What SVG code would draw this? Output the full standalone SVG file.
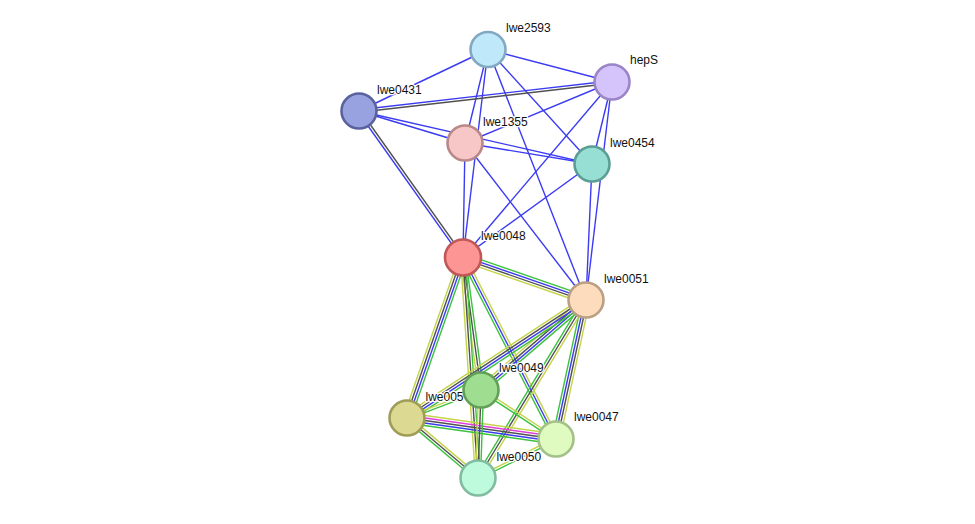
<svg xmlns="http://www.w3.org/2000/svg" width="975" height="524" viewBox="0 0 975 524">
<style>
.e line{stroke-width:1.4;fill:none}
.bl{stroke:#3b3bf3}
.g{stroke:#3cc23c}
.b{stroke:#3b3bf3}
.k{stroke:#505050}
.m{stroke:#de3ede}
.y{stroke:#c4d44a}
.n circle{stroke-width:2.6}
.n text{font-family:"Liberation Sans",Arial,sans-serif;font-size:12px;fill:#111;stroke:#fff;stroke-width:2.5;stroke-linejoin:round;paint-order:stroke}
</style>
<rect width="975" height="524" fill="#fff"/>
<g id="connectors" class="e">
  <!-- top cluster, blue single lines -->
  <line class="bl" x1="488" y1="49.5" x2="359" y2="111"/>
  <line class="bl" x1="488" y1="49.5" x2="612" y2="82"/>
  <line class="bl" x1="488" y1="49.5" x2="465" y2="143"/>
  <line class="bl" x1="488" y1="49.5" x2="463" y2="257.5"/>
  <line class="bl" x1="488" y1="49.5" x2="592" y2="164"/>
  <line class="bl" x1="488" y1="49.5" x2="586" y2="300"/>
  <line class="bl" x1="612" y1="82" x2="465" y2="143"/>
  <line class="bl" x1="612" y1="82" x2="592" y2="164"/>
  <line class="bl" x1="612" y1="82" x2="463" y2="257.5"/>
  <line class="bl" x1="612" y1="82" x2="586" y2="300"/>
  <line class="bl" x1="359" y1="111" x2="465" y2="143"/>
  <line class="bl" x1="359" y1="111" x2="592" y2="164"/>
  <line class="bl" x1="465" y1="143" x2="592" y2="164"/>
  <line class="bl" x1="465" y1="143" x2="463" y2="257.5"/>
  <line class="bl" x1="465" y1="143" x2="586" y2="300"/>
  <line class="bl" x1="592" y1="164" x2="463" y2="257.5"/>
  <line class="bl" x1="592" y1="164" x2="586" y2="300"/>
  <!-- doubles -->
  <line class="bl" x1="611.85" y1="80.7" x2="358.85" y2="109.7"/>
  <line class="k" x1="612.15" y1="83.3" x2="359.15" y2="112.3"/>
  <line class="bl" x1="357.94" y1="111.75" x2="461.94" y2="258.25"/>
  <line class="k" x1="360.06" y1="110.25" x2="464.06" y2="256.75"/>
  <!-- lower cluster -->
  <g transform="translate(463,257.5) rotate(19.06)">
    <line class="g" x1="0" x2="130.1" y1="-3.75" y2="-3.75"/>
    <line class="b" x1="0" x2="130.1" y1="-1.25" y2="-1.25"/>
    <line class="k" x1="0" x2="130.1" y1="1.25" y2="1.25"/>
    <line class="y" x1="0" x2="130.1" y1="3.75" y2="3.75"/>
  </g>
  <g transform="translate(463,257.5) rotate(109.23)">
    <line class="y" x1="0" x2="170" y1="3.75" y2="3.75"/>
    <line class="k" x1="0" x2="170" y1="1.25" y2="1.25"/>
    <line class="b" x1="0" x2="170" y1="-1.25" y2="-1.25"/>
    <line class="g" x1="0" x2="170" y1="-3.75" y2="-3.75"/>
  </g>
  <g transform="translate(463,257.5) rotate(82.26)">
    <line class="y" x1="0" x2="133.7" y1="2.5" y2="2.5"/>
    <line class="k" x1="0" x2="133.7" y1="0" y2="0"/>
    <line class="g" x1="0" x2="133.7" y1="-2.5" y2="-2.5"/>
  </g>
  <g transform="translate(463,257.5) rotate(86.11)">
    <line class="y" x1="0" x2="221" y1="2.5" y2="2.5"/>
    <line class="k" x1="0" x2="221" y1="0" y2="0"/>
    <line class="g" x1="0" x2="221" y1="-2.5" y2="-2.5"/>
  </g>
  <g transform="translate(463,257.5) rotate(62.87)">
    <line class="g" x1="0" x2="203.9" y1="2.5" y2="2.5"/>
    <line class="b" x1="0" x2="203.9" y1="0" y2="0"/>
    <line class="y" x1="0" x2="203.9" y1="-2.5" y2="-2.5"/>
  </g>
  <g transform="translate(586,300) rotate(139.4)">
    <line class="y" x1="0" x2="138.3" y1="3.75" y2="3.75"/>
    <line class="k" x1="0" x2="138.3" y1="1.25" y2="1.25"/>
    <line class="b" x1="0" x2="138.3" y1="-1.25" y2="-1.25"/>
    <line class="g" x1="0" x2="138.3" y1="-3.75" y2="-3.75"/>
  </g>
  <g transform="translate(586,300) rotate(146.6)">
    <line class="y" x1="0" x2="214.4" y1="3.75" y2="3.75"/>
    <line class="k" x1="0" x2="214.4" y1="1.25" y2="1.25"/>
    <line class="b" x1="0" x2="214.4" y1="-1.25" y2="-1.25"/>
    <line class="g" x1="0" x2="214.4" y1="-3.75" y2="-3.75"/>
  </g>
  <g transform="translate(586,300) rotate(102.18)">
    <line class="g" x1="0" x2="142.2" y1="3.75" y2="3.75"/>
    <line class="b" x1="0" x2="142.2" y1="1.25" y2="1.25"/>
    <line class="k" x1="0" x2="142.2" y1="-1.25" y2="-1.25"/>
    <line class="y" x1="0" x2="142.2" y1="-3.75" y2="-3.75"/>
  </g>
  <g transform="translate(586,300) rotate(121.25)">
    <line class="g" x1="0" x2="208.2" y1="2.5" y2="2.5"/>
    <line class="k" x1="0" x2="208.2" y1="0" y2="0"/>
    <line class="y" x1="0" x2="208.2" y1="-2.5" y2="-2.5"/>
  </g>
  <g transform="translate(407,418) rotate(-20.7)">
    <line class="g" x1="0" x2="79.1" y1="1.25" y2="1.25"/>
    <line class="y" x1="0" x2="79.1" y1="-1.25" y2="-1.25"/>
  </g>
  <g transform="translate(407,418) rotate(8.02)">
    <line class="y" x1="0" x2="150.5" y1="-5" y2="-5"/>
    <line class="m" x1="0" x2="150.5" y1="-2.5" y2="-2.5"/>
    <line class="k" x1="0" x2="150.5" y1="0" y2="0"/>
    <line class="b" x1="0" x2="150.5" y1="2.5" y2="2.5"/>
    <line class="g" x1="0" x2="150.5" y1="5" y2="5"/>
  </g>
  <g transform="translate(407,418) rotate(40.2)">
    <line class="y" x1="0" x2="93" y1="-2.5" y2="-2.5"/>
    <line class="k" x1="0" x2="93" y1="0" y2="0"/>
    <line class="g" x1="0" x2="93" y1="2.5" y2="2.5"/>
  </g>
  <g transform="translate(481,390) rotate(33.16)">
    <line class="y" x1="0" x2="89.6" y1="-1.25" y2="-1.25"/>
    <line class="g" x1="0" x2="89.6" y1="1.25" y2="1.25"/>
  </g>
  <g transform="translate(481,390) rotate(91.95)">
    <line class="y" x1="0" x2="88" y1="2.5" y2="2.5"/>
    <line class="k" x1="0" x2="88" y1="0" y2="0"/>
    <line class="g" x1="0" x2="88" y1="-2.5" y2="-2.5"/>
  </g>
  <g transform="translate(556,439) rotate(153.4)">
    <line class="y" x1="0" x2="87.2" y1="1.25" y2="1.25"/>
    <line class="g" x1="0" x2="87.2" y1="-1.25" y2="-1.25"/>
  </g>
</g>
<g id="lwe2593" class="n"><circle cx="488" cy="49.5" r="17.5" fill="#bfe8fa" stroke="#82a9c0"/><text x="506" y="32">lwe2593</text></g>
<g id="hepS" class="n"><circle cx="612" cy="82" r="17.5" fill="#d5c4fb" stroke="#9a85c6"/><text x="630" y="64">hepS</text></g>
<g id="lwe0431" class="n"><circle cx="359" cy="111" r="17.5" fill="#99a2e0" stroke="#5a629e"/><text x="377" y="94">lwe0431</text></g>
<g id="lwe1355" class="n"><circle cx="465" cy="143" r="17.5" fill="#f7c6c6" stroke="#b98888"/><text x="483" y="126">lwe1355</text></g>
<g id="lwe0454" class="n"><circle cx="592" cy="164" r="17.5" fill="#97dfd4" stroke="#5a9e94"/><text x="610" y="147">lwe0454</text></g>
<g id="lwe0048" class="n"><circle cx="463" cy="257.5" r="18" fill="#fe9595" stroke="#c05858"/><text x="481" y="240">lwe0048</text></g>
<g id="lwe0051" class="n"><circle cx="586" cy="300" r="17.5" fill="#fcdcbc" stroke="#bb9f82"/><text x="604" y="282.5">lwe0051</text></g>
<g id="lwe0052" class="n"><circle cx="407" cy="418" r="17.5" fill="#dcd992" stroke="#9f9c57"/><text x="425.5" y="401">lwe005</text></g>
<g id="lwe0049" class="n"><circle cx="481" cy="390" r="17.5" fill="#9fdd91" stroke="#62a058"/><text x="499" y="372">lwe0049</text></g>
<g id="lwe0047" class="n"><circle cx="556" cy="439" r="17.5" fill="#e0fbbf" stroke="#a2c088"/><text x="574" y="421">lwe0047</text></g>
<g id="lwe0050" class="n"><circle cx="478" cy="478" r="17.5" fill="#bdfbdc" stroke="#80bc9f"/><text x="496.5" y="461">lwe0050</text></g>
</svg>
